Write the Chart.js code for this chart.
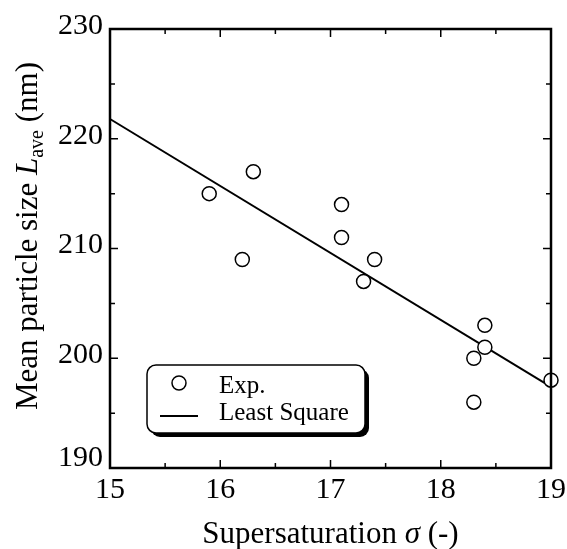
<!DOCTYPE html>
<html>
<head>
<meta charset="utf-8">
<script src="https://cdn.jsdelivr.net/npm/chart.js@4.4.0/dist/chart.umd.min.js"></script>
<style>
  body { margin: 0; background: #fff; }
  #wrap { width: 567px; height: 549px; position: relative; }
</style>
</head>
<body>
<div id="wrap"><canvas id="chart"></canvas></div>
<script>
// experimental points
const sigmaExp = [15.9, 16.3, 16.2, 17.1, 17.1, 17.4, 17.3, 18.4, 18.4, 18.3, 18.3, 19.0];
const sizeExp = [215, 217, 209, 214, 211, 209, 207, 203, 201, 200, 196, 198];
// least square line end points
const sigmaFit = [15, 19];
const sizeFit = [221.8, 197.4];
// ticks
const xTicks = [15, 16, 17, 18, 19];
const xMinor = [15.5, 16.5, 17.5, 18.5];
const yTicks = [190, 200, 210, 220, 230];
const yMinor = [195, 205, 215, 225];
const seriesNames = ["Exp.", "Least Square"];

const serif = "'Liberation Serif', 'Times New Roman', serif";

const framePlugin = {
  id: "frame",
  afterDatasetsDraw(chart) {
    const ctx = chart.ctx;
    const a = chart.chartArea;
    const xs = chart.scales.x, ys = chart.scales.y;
    ctx.save();
    ctx.strokeStyle = "#000";
    ctx.fillStyle = "#000";

    // frame
    ctx.lineWidth = 2.5;
    ctx.strokeRect(a.left, a.top, a.right - a.left, a.bottom - a.top);

    // inward ticks on all sides
    ctx.lineWidth = 1.5;
    ctx.beginPath();
    xTicks.concat(xMinor).forEach((v) => {
      const len = xTicks.includes(v) ? 8 : 5;
      const px = xs.getPixelForValue(v);
      ctx.moveTo(px, a.bottom); ctx.lineTo(px, a.bottom - len);
      ctx.moveTo(px, a.top); ctx.lineTo(px, a.top + len);
    });
    yTicks.concat(yMinor).forEach((v) => {
      const len = yTicks.includes(v) ? 8 : 5;
      const py = ys.getPixelForValue(v);
      ctx.moveTo(a.left, py); ctx.lineTo(a.left + len, py);
      ctx.moveTo(a.right, py); ctx.lineTo(a.right - len, py);
    });
    ctx.stroke();

    // tick labels
    ctx.font = "30px " + serif;
    ctx.textAlign = "center";
    ctx.textBaseline = "middle";
    xTicks.forEach((v) => {
      ctx.fillText(String(v), xs.getPixelForValue(v), a.bottom + 22);
    });
    ctx.textAlign = "right";
    yTicks.forEach((v) => {
      const off = v === yTicks[0] ? -10 : -3;
      ctx.fillText(String(v), a.left - 7, ys.getPixelForValue(v) + off);
    });

    // x title: Supersaturation σ (-)
    const xParts = [
      { t: "Supersaturation ", f: "31px " + serif },
      { t: "\u03C3", f: "italic 31px " + serif },
      { t: " (-)", f: "31px " + serif },
    ];
    let total = 0;
    xParts.forEach((p) => { ctx.font = p.f; total += ctx.measureText(p.t).width; });
    let x = (a.left + a.right) / 2 - total / 2;
    ctx.textAlign = "left";
    ctx.textBaseline = "alphabetic";
    xParts.forEach((p) => {
      ctx.font = p.f;
      ctx.fillText(p.t, x, 543);
      x += ctx.measureText(p.t).width;
    });

    // y title: Mean particle size L_ave (nm)
    const yParts = [
      { t: "Mean particle size ", f: "31px " + serif, dy: 0 },
      { t: "L", f: "italic 31px " + serif, dy: 0 },
      { t: "ave", f: "20px " + serif, dy: 6 },
      { t: " (nm)", f: "31px " + serif, dy: 0 },
    ];
    total = 0;
    yParts.forEach((p) => { ctx.font = p.f; total += ctx.measureText(p.t).width; });
    ctx.save();
    ctx.translate(37, 236);
    ctx.rotate(-Math.PI / 2);
    x = -total / 2;
    yParts.forEach((p) => {
      ctx.font = p.f;
      ctx.fillText(p.t, x, p.dy);
      x += ctx.measureText(p.t).width;
    });
    ctx.restore();

    // legend box with drop shadow
    const bx = 147, by = 365, bw = 218, bh = 68, r = 9;
    const box = (ox, oy) => {
      ctx.beginPath();
      ctx.roundRect(bx + ox, by + oy, bw, bh, r);
    };
    box(4, 4);
    ctx.fill();
    box(0, 0);
    ctx.fillStyle = "#fff";
    ctx.fill();
    ctx.lineWidth = 1.5;
    ctx.stroke();

    ctx.beginPath();
    ctx.arc(179, 383, 7, 0, Math.PI * 2);
    ctx.fill();
    ctx.stroke();
    ctx.lineWidth = 2;
    ctx.beginPath();
    ctx.moveTo(160, 416); ctx.lineTo(198, 416);
    ctx.stroke();

    ctx.fillStyle = "#000";
    ctx.font = "25px " + serif;
    ctx.textBaseline = "alphabetic";
    ctx.fillText(seriesNames[0], 219, 393);
    ctx.fillText(seriesNames[1], 219, 420);
    ctx.restore();
  },
};

new Chart(document.getElementById("chart"), {
  type: "scatter",
  data: {
    datasets: [
      {
        label: seriesNames[1],
        data: sigmaFit.map((s, i) => ({ x: s, y: sizeFit[i] })),
        showLine: true,
        borderColor: "#000",
        borderWidth: 2,
        pointRadius: 0,
        order: 2,
      },
      {
        label: seriesNames[0],
        data: sigmaExp.map((s, i) => ({ x: s, y: sizeExp[i] })),
        pointStyle: "circle",
        pointRadius: 7,
        pointBorderWidth: 1.5,
        pointBorderColor: "#000",
        pointBackgroundColor: "#fff",
        order: 1,
      },
    ],
  },
  options: {
    responsive: true,
    maintainAspectRatio: false,
    animation: false,
    clip: false,
    layout: { padding: { left: 110, right: 16, top: 29, bottom: 81 } },
    plugins: { legend: { display: false }, tooltip: { enabled: false } },
    scales: {
      x: { type: "linear", min: 15, max: 19, display: false },
      y: { type: "linear", min: 190, max: 230, display: false },
    },
  },
  plugins: [framePlugin],
});
</script>
</body>
</html>
